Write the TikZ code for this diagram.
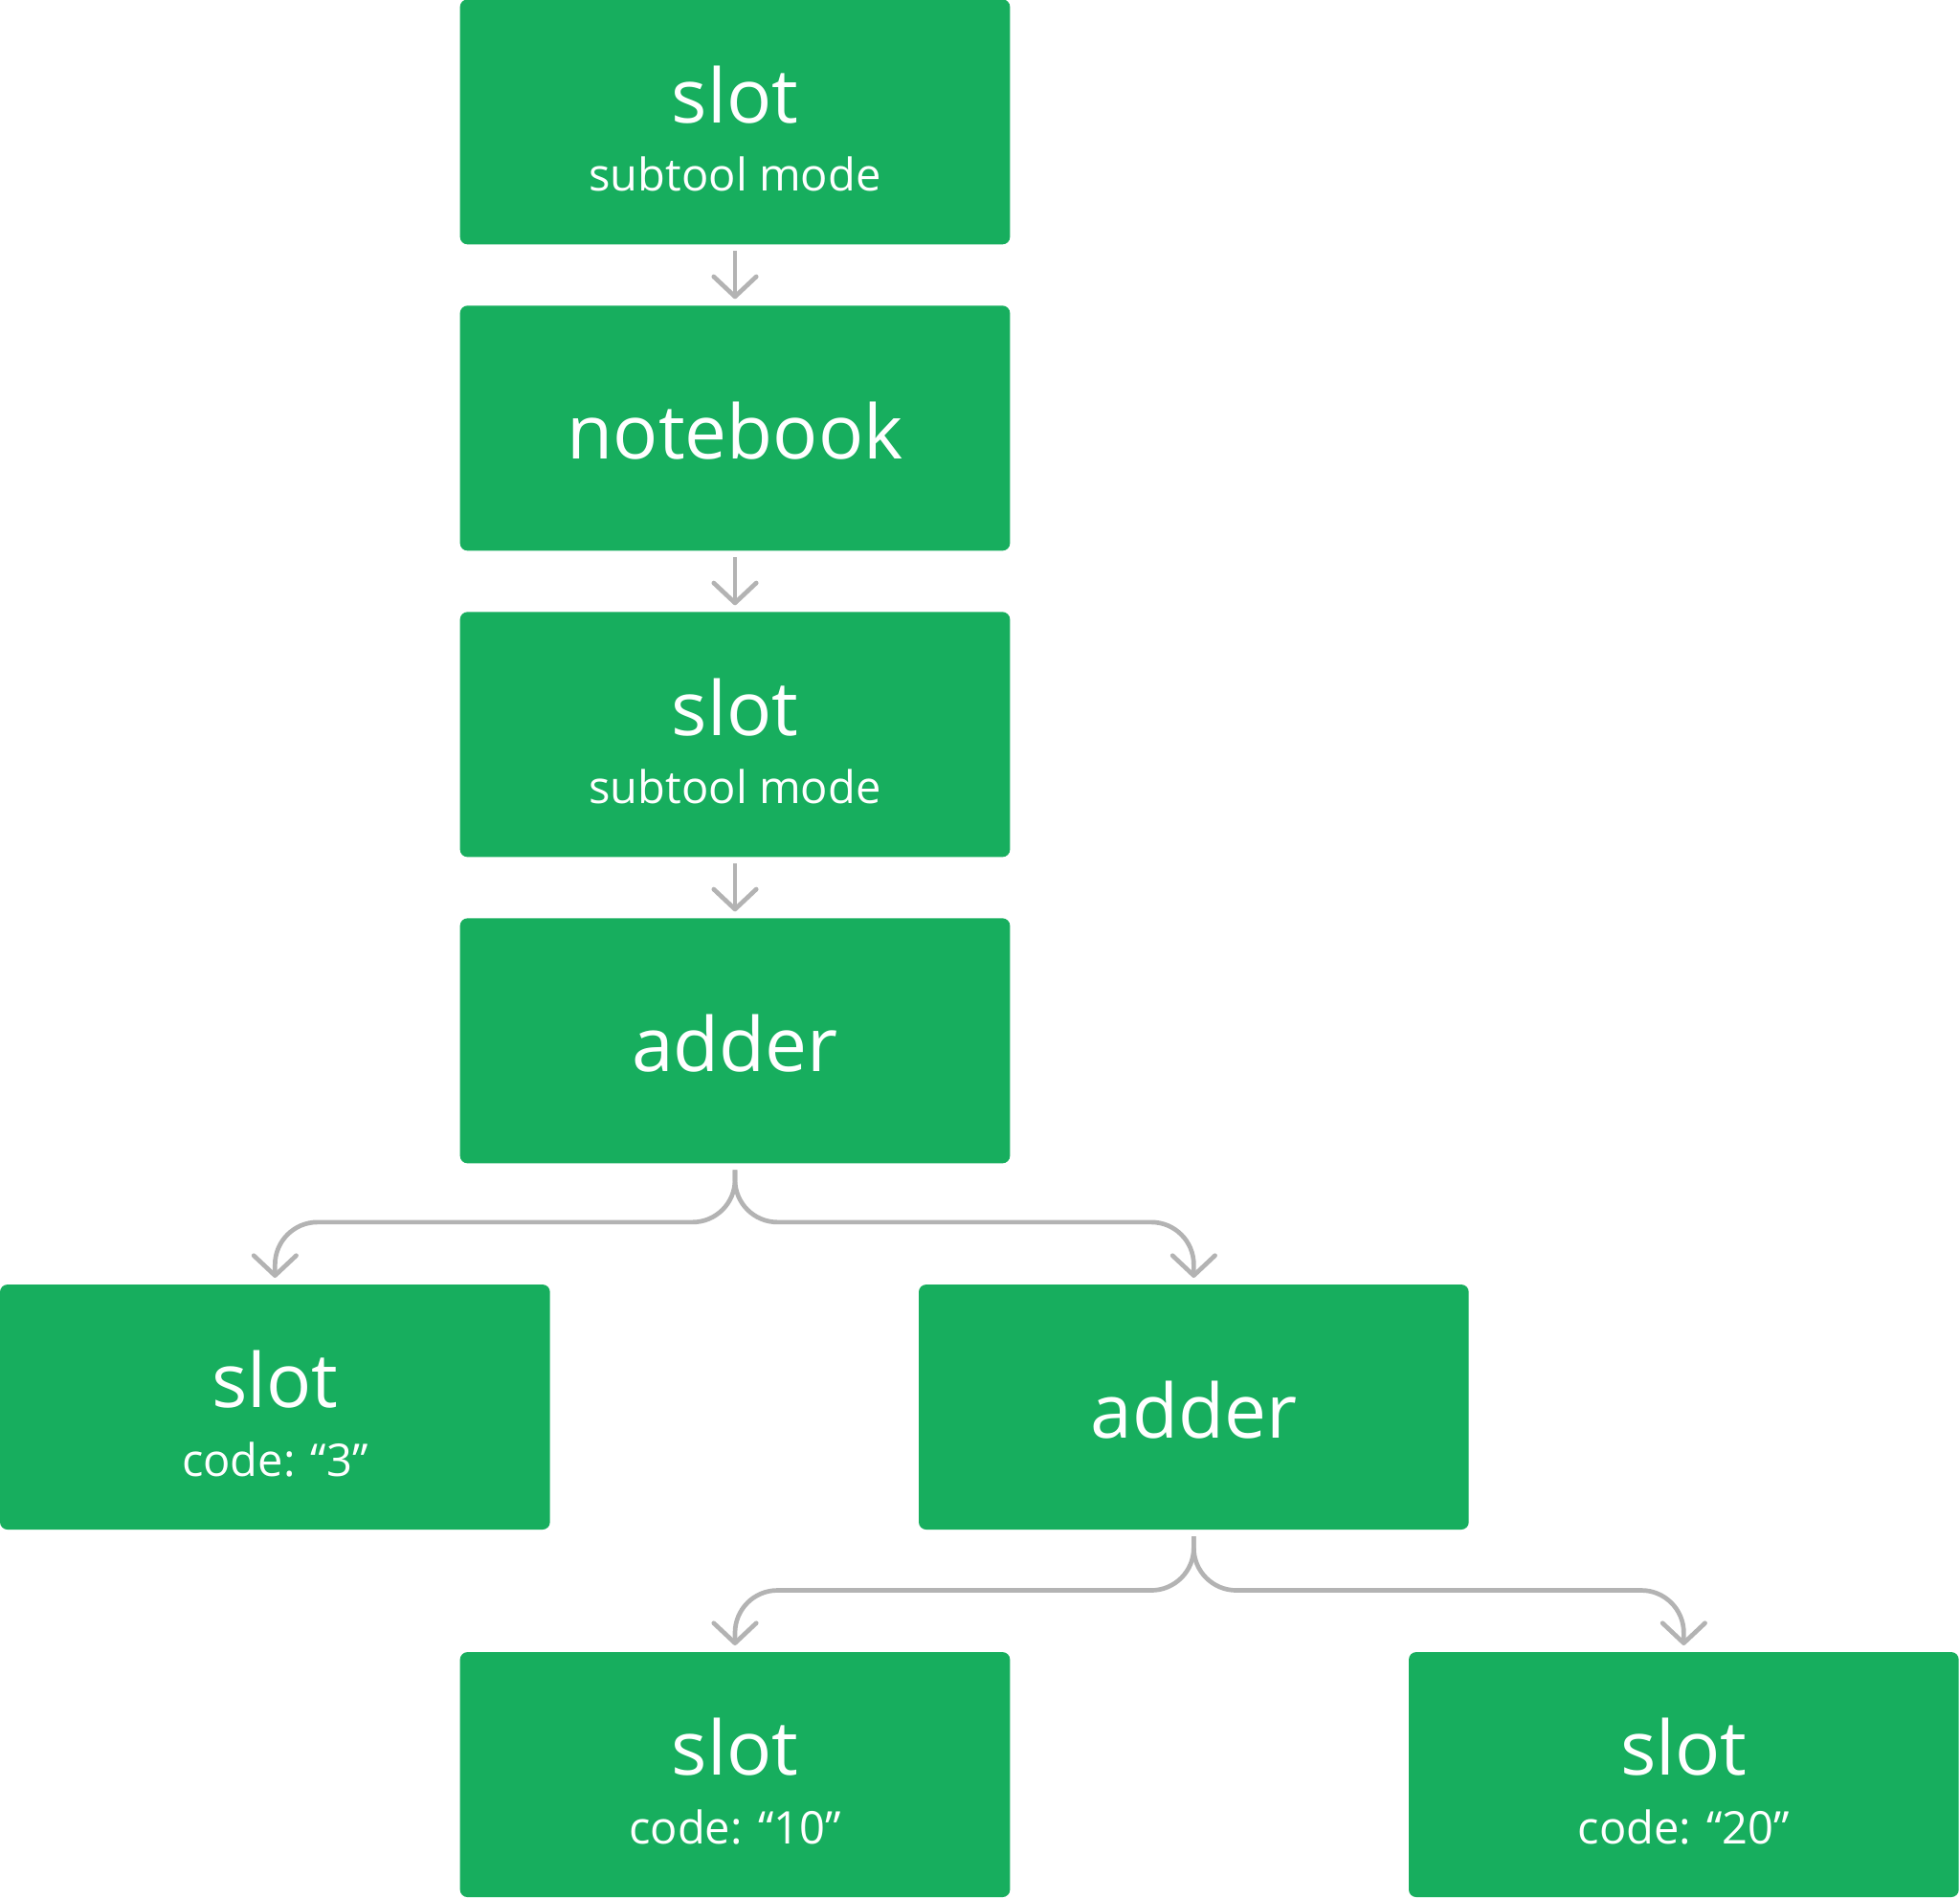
\documentclass[tikz,border=0pt]{standalone}
\usepackage{fontspec}
\setmainfont{Open Sans}
\usetikzlibrary{arrows.meta}
\definecolor{boxgreen}{HTML}{17AE5E}
\definecolor{linkgray}{HTML}{B3B3B3}

\begin{document}
\begin{tikzpicture}[
  x=0.5pt, y=0.5pt,
  box/.style={
    fill=boxgreen, rounded corners=3pt, inner sep=0pt,
    minimum width=220pt, minimum height=98pt
  },
  title/.style={
    anchor=base, text=white, inner sep=0pt,
    font=\fontsize{30}{36}\selectfont
  },
  sub/.style={
    anchor=base, text=white, inner sep=0pt,
    font=\fontsize{18}{22}\selectfont
  },
  link/.style={
    draw=linkgray, line width=1.8pt, rounded corners=17pt,
    -{Straight Barb[round, length=8pt, width=17pt]}
  }
]
\useasboundingbox (0,0) rectangle (1568,-1519);

% main column
\node[box] (slotA) at (588, -97.5) {};
\node[title] (slotA-t) at ([yshift=-49.5pt]slotA.north) {slot};
\node[sub] (slotA-s) at ([yshift=-77pt]slotA.north) {subtool mode};

\node[box] (nb) at (588, -342.5) {};
\node[title] (nb-t) at ([yshift=-61.5pt]nb.north) {notebook};

\node[box] (slotB) at (588, -587.5) {};
\node[title] (slotB-t) at ([yshift=-49.5pt]slotB.north) {slot};
\node[sub] (slotB-s) at ([yshift=-77pt]slotB.north) {subtool mode};

\node[box] (adderA) at (588, -832.5) {};
\node[title] (adderA-t) at ([yshift=-61.5pt]adderA.north) {adder};

% first split
\node[box] (slotC) at (220, -1125.5) {};
\node[title] (slotC-t) at ([yshift=-49.5pt]slotC.north) {slot};
\node[sub] (slotC-s) at ([yshift=-77pt]slotC.north) {code: “3”};

\node[box] (adderB) at (955, -1125.5) {};
\node[title] (adderB-t) at ([yshift=-61.5pt]adderB.north) {adder};

% second split
\node[box] (slotD) at (588, -1419.5) {};
\node[title] (slotD-t) at ([yshift=-49.5pt]slotD.north) {slot};
\node[sub] (slotD-s) at ([yshift=-77pt]slotD.north) {code: “10”};

\node[box] (slotE) at (1347, -1419.5) {};
\node[title] (slotE-t) at ([yshift=-49.5pt]slotE.north) {slot};
\node[sub] (slotE-s) at ([yshift=-77pt]slotE.north) {code: “20”};

% arrows
\draw[link] ([yshift=-2.5pt]slotA.south) -- ([yshift=2.5pt]nb.north);
\draw[link] ([yshift=-2.5pt]nb.south) -- ([yshift=2.5pt]slotB.north);
\draw[link] ([yshift=-2.5pt]slotB.south) -- ([yshift=2.5pt]adderA.north);

\draw[link] ([yshift=-2.5pt]adderA.south) |- ([yshift=24.75pt]slotC.north) -- ([yshift=2.5pt]slotC.north);
\draw[link] ([yshift=-2.5pt]adderA.south) |- ([yshift=24.75pt]adderB.north) -- ([yshift=2.5pt]adderB.north);

\draw[link] ([yshift=-2.5pt]adderB.south) |- ([yshift=24.5pt]slotD.north) -- ([yshift=2.5pt]slotD.north);
\draw[link] ([yshift=-2.5pt]adderB.south) |- ([yshift=24.5pt]slotE.north) -- ([yshift=2.5pt]slotE.north);

\end{tikzpicture}
\end{document}
